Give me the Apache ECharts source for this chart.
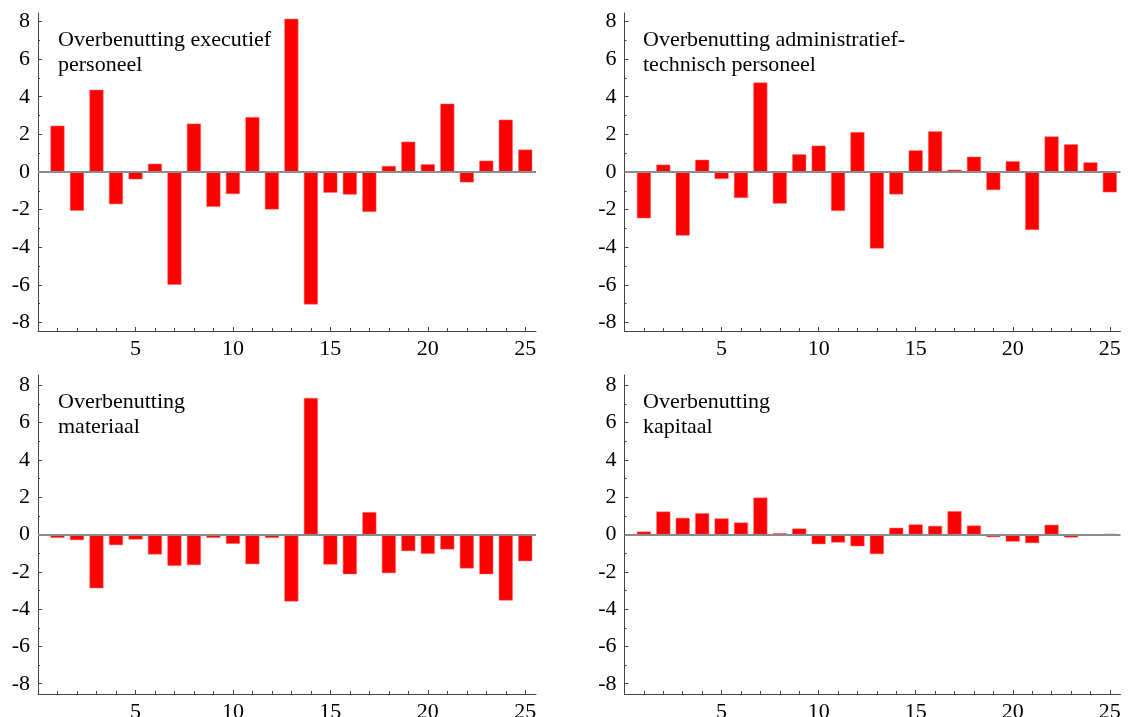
<!DOCTYPE html>
<html>
<head>
<meta charset="utf-8">
<script src="https://cdn.jsdelivr.net/npm/echarts@6/dist/echarts.min.js"></script>
<style>
html,body{margin:0;padding:0;background:#fff;}
#chart{width:1130px;height:717px;}
</style>
</head>
<body>
<div id="chart"></div>
<script>
const positions = [1,2,3,4,5,6,7,8,9,10,11,12,13,14,15,16,17,18,19,20,21,22,23,24,25];
const executief = [2.46,-2.06,4.37,-1.71,-0.39,0.44,-5.99,2.57,-1.85,-1.17,2.92,-1.99,8.14,-7.04,-1.10,-1.20,-2.12,0.32,1.61,0.41,3.63,-0.55,0.60,2.78,1.19];
const adminTech = [-2.46,0.39,-3.38,0.65,-0.37,-1.38,4.76,-1.68,0.94,1.40,-2.07,2.12,-4.07,-1.19,1.15,2.16,0.12,0.81,-0.96,0.57,-3.08,1.89,1.47,0.51,-1.08];
const materiaal = [-0.18,-0.30,-2.88,-0.57,-0.27,-1.07,-1.68,-1.64,-0.18,-0.50,-1.59,-0.18,-3.59,7.32,-1.61,-2.13,1.20,-2.07,-0.89,-1.04,-0.80,-1.82,-2.13,-3.54,-1.43];
const kapitaal = [0.16,1.23,0.89,1.14,0.86,0.64,1.98,0.07,0.32,-0.52,-0.43,-0.63,-1.05,0.36,0.54,0.46,1.25,0.48,-0.14,-0.38,-0.46,0.52,-0.16,0,0.03];
const panelTitles = ['Overbenutting executief\npersoneel','Overbenutting administratief-\ntechnisch personeel','Overbenutting\nmateriaal','Overbenutting\nkapitaal'];
const yTickLabels = [-8,-6,-4,-2,0,2,4,6,8];
const yMinorTicks = [-7,-5,-3,-1,1,3,5,7];
const xTickLabels = [5,10,15,20,25];

const FONT = 'Liberation Serif';
const AXIS_COLOR = '#444';
const panels = [
  {data: executief, grid:{left:38, top:13, width:498, height:318}, ymin:-8.45, ymax:8.45, tx:58, ty:28},
  {data: adminTech, grid:{left:624.5, top:13, width:496, height:318}, ymin:-8.45, ymax:8.45, tx:643, ty:28},
  {data: materiaal, grid:{left:38, top:375, width:498, height:319}, ymin:-8.55, ymax:8.55, tx:58, ty:390},
  {data: kapitaal, grid:{left:624.5, top:375, width:496, height:319}, ymin:-8.55, ymax:8.55, tx:643, ty:390}
];

const grid = [], xAxis = [], yAxis = [], series = [], graphic = [];
panels.forEach((p, i) => {
  grid.push(Object.assign({containLabel:false, outerBoundsMode:'none'}, p.grid));
  xAxis.push({
    type:'value', gridIndex:i, min:0, max:25.55, position:'bottom',
    axisLine:{show:true, onZero:false, lineStyle:{color:AXIS_COLOR, width:1}},
    axisTick:{show:true, inside:true, length:4, customValues:xTickLabels, lineStyle:{color:AXIS_COLOR}},
    axisLabel:{show:true, customValues:xTickLabels, fontFamily:FONT, fontSize:22, color:'#000', margin:7},
    splitLine:{show:false}
  });
  xAxis.push({
    type:'value', gridIndex:i, min:0, max:25.55, position:'bottom',
    axisLine:{show:false, onZero:false},
    axisTick:{show:true, inside:true, length:3, customValues:positions, lineStyle:{color:AXIS_COLOR}},
    axisLabel:{show:false},
    splitLine:{show:false}
  });
  yAxis.push({
    type:'value', gridIndex:i, min:p.ymin, max:p.ymax, position:'left',
    axisLine:{show:true, onZero:false, lineStyle:{color:AXIS_COLOR, width:1}},
    axisTick:{show:true, inside:true, length:4, customValues:yTickLabels, lineStyle:{color:AXIS_COLOR}},
    axisLabel:{show:true, customValues:yTickLabels, fontFamily:FONT, fontSize:22, color:'#000', margin:8},
    splitLine:{show:false}
  });
  yAxis.push({
    type:'value', gridIndex:i, min:p.ymin, max:p.ymax, position:'left',
    axisLine:{show:false, onZero:false},
    axisTick:{show:true, inside:true, length:2, customValues:yMinorTicks, lineStyle:{color:AXIS_COLOR}},
    axisLabel:{show:false},
    splitLine:{show:false}
  });
  series.push({
    type:'bar', xAxisIndex:2*i, yAxisIndex:2*i,
    data: positions.map((x, k) => [x, p.data[k]]),
    barWidth:14,
    itemStyle:{color:'#ff0000', borderColor:'#ff6a6a', borderWidth:0.5},
    markLine:{
      silent:true, symbol:['none','none'], label:{show:false},
      lineStyle:{color:'#8c8c8c', width:2, type:'solid'},
      data:[{yAxis:0}]
    }
  });
  graphic.push({
    type:'text', left:p.tx, top:p.ty,
    style:{text:panelTitles[i], font:'22px "Liberation Serif"', lineHeight:25, fill:'#000'}
  });
});

const chart = echarts.init(document.getElementById('chart'), null, {renderer:'canvas'});
chart.setOption({
  animation:false,
  backgroundColor:'#fff',
  grid, xAxis, yAxis, series, graphic
});
</script>
</body>
</html>
